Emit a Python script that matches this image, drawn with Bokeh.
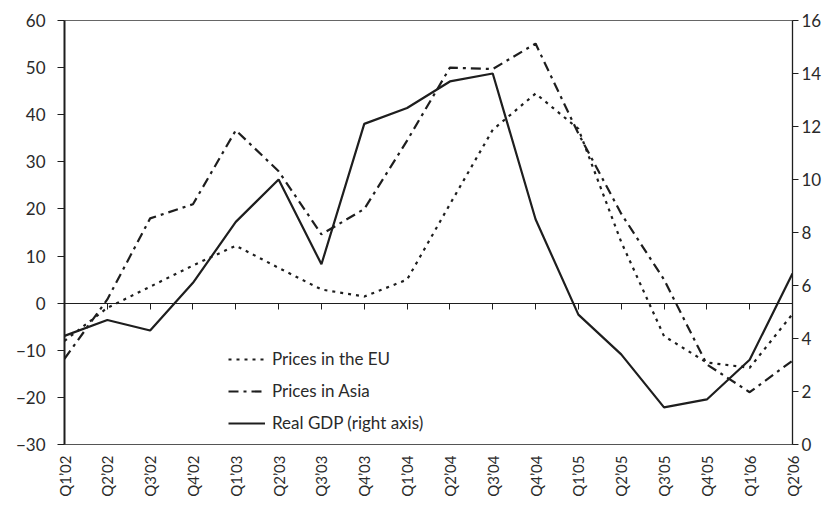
import math
from bokeh.plotting import figure
from bokeh.models import Range1d, LinearAxis, FixedTicker, Legend, LegendItem
from bokeh.embed import file_html
from bokeh.resources import INLINE

quarters = ["Q1’02", "Q2’02", "Q3’02", "Q4’02", "Q1’03", "Q2’03", "Q3’03", "Q4’03",
            "Q1’04", "Q2’04", "Q3’04", "Q4’04", "Q1’05", "Q2’05", "Q3’05", "Q4’05",
            "Q1’06", "Q2’06"]
eu_prices = [-8, -1, 3.5, 8, 12.2, 7.5, 2.9, 1.4, 5, 21, 36.8, 44.5, 37, 13, -7, -12.6, -13.7, -2.3]
asia_prices = [-11.8, 0.8, 18, 21, 36.7, 28, 14.6, 20, 34.5, 50, 49.7, 55.1, 36, 19, 5, -13, -18.9, -12.2]
real_gdp = [4.1, 4.7, 4.3, 6.1, 8.4, 10.0, 6.8, 12.1, 12.7, 13.7, 14.0, 8.5, 4.9, 3.4, 1.4, 1.7, 3.2, 6.45]
left_ticks = list(range(-30, 61, 10))
right_ticks = list(range(0, 17, 2))

FONT = "Lato"
TXT = "#2a2a2a"
INK = "#1e1e1e"

xs = list(range(len(quarters)))

p = figure(width=824, height=499, output_backend="svg", toolbar_location=None,
           x_range=Range1d(0, len(quarters) - 1), y_range=Range1d(left_ticks[0], left_ticks[-1]),
           min_border_left=64, min_border_right=26, min_border_top=20, min_border_bottom=46,
           x_axis_location=None, y_axis_location=None)
p.extra_y_ranges = {"gdp": Range1d(right_ticks[0], right_ticks[-1])}
p.grid.visible = False
p.outline_line_color = "#666666"
p.outline_line_width = 1
p.background_fill_color = "white"
p.border_fill_color = "white"

# left axis
ly = LinearAxis(ticker=FixedTicker(ticks=left_ticks))
ly.axis_line_color = INK
ly.axis_line_width = 2
ly.major_tick_line_color = INK
ly.major_tick_in = 0
ly.major_tick_out = 7
ly.minor_tick_line_color = None
ly.major_label_standoff = 12
ly.major_label_text_font = FONT
ly.major_label_text_font_size = "17px"
ly.major_label_text_color = TXT
p.add_layout(ly, "left")

# right axis
ry = LinearAxis(y_range_name="gdp", ticker=FixedTicker(ticks=right_ticks))
ry.axis_line_color = INK
ry.axis_line_width = 1.3
ry.major_tick_line_color = INK
ry.major_tick_in = 0
ry.major_tick_out = 6
ry.minor_tick_line_color = None
ry.major_label_standoff = 3
ry.major_label_text_font = FONT
ry.major_label_text_font_size = "17px"
ry.major_label_text_color = TXT
p.add_layout(ry, "right")

# bottom axis with quarter labels
bx = LinearAxis(ticker=FixedTicker(ticks=xs),
                major_label_overrides={i: q for i, q in enumerate(quarters)})
bx.axis_line_color = "#555555"
bx.axis_line_width = 1
bx.major_tick_line_color = None
bx.minor_tick_line_color = None
bx.major_label_orientation = math.pi / 2
bx.major_label_standoff = 5
bx.major_label_text_font = FONT
bx.major_label_text_font_size = "15px"
bx.major_label_text_color = TXT
p.add_layout(bx, "below")

# zero line with tick marks pointing down
zx = LinearAxis(ticker=FixedTicker(ticks=xs), fixed_location=0)
zx.axis_line_color = INK
zx.axis_line_width = 1.2
zx.major_tick_line_color = INK
zx.major_tick_in = 6
zx.major_tick_out = 0
zx.minor_tick_line_color = None
zx.major_label_text_font_size = "0px"
zx.major_label_text_alpha = 0
zx.major_label_standoff = 0
p.add_layout(zx, "above")

r_eu = p.line(xs, eu_prices, line_color=INK, line_width=2.2, line_dash="3 5")
r_asia = p.line(xs, asia_prices, line_color=INK, line_width=2.2, line_dash="10 5 3 5")
r_gdp = p.line(xs, real_gdp, line_color=INK, line_width=2.2, y_range_name="gdp")

legend = Legend(items=[LegendItem(label="Prices in the EU", renderers=[r_eu]),
                       LegendItem(label="Prices in Asia", renderers=[r_asia]),
                       LegendItem(label="Real GDP (right axis)", renderers=[r_gdp])],
                location=(164, 11))
legend.background_fill_alpha = 0
legend.border_line_color = None
legend.padding = 0
legend.margin = 0
legend.spacing = 11
legend.glyph_width = 37
legend.glyph_height = 20
legend.label_height = 20
legend.label_standoff = 7
legend.label_text_font = FONT
legend.label_text_font_size = "17px"
legend.label_text_color = TXT
p.add_layout(legend, "center")

open("out.html", "w").write(file_html(p, INLINE))
